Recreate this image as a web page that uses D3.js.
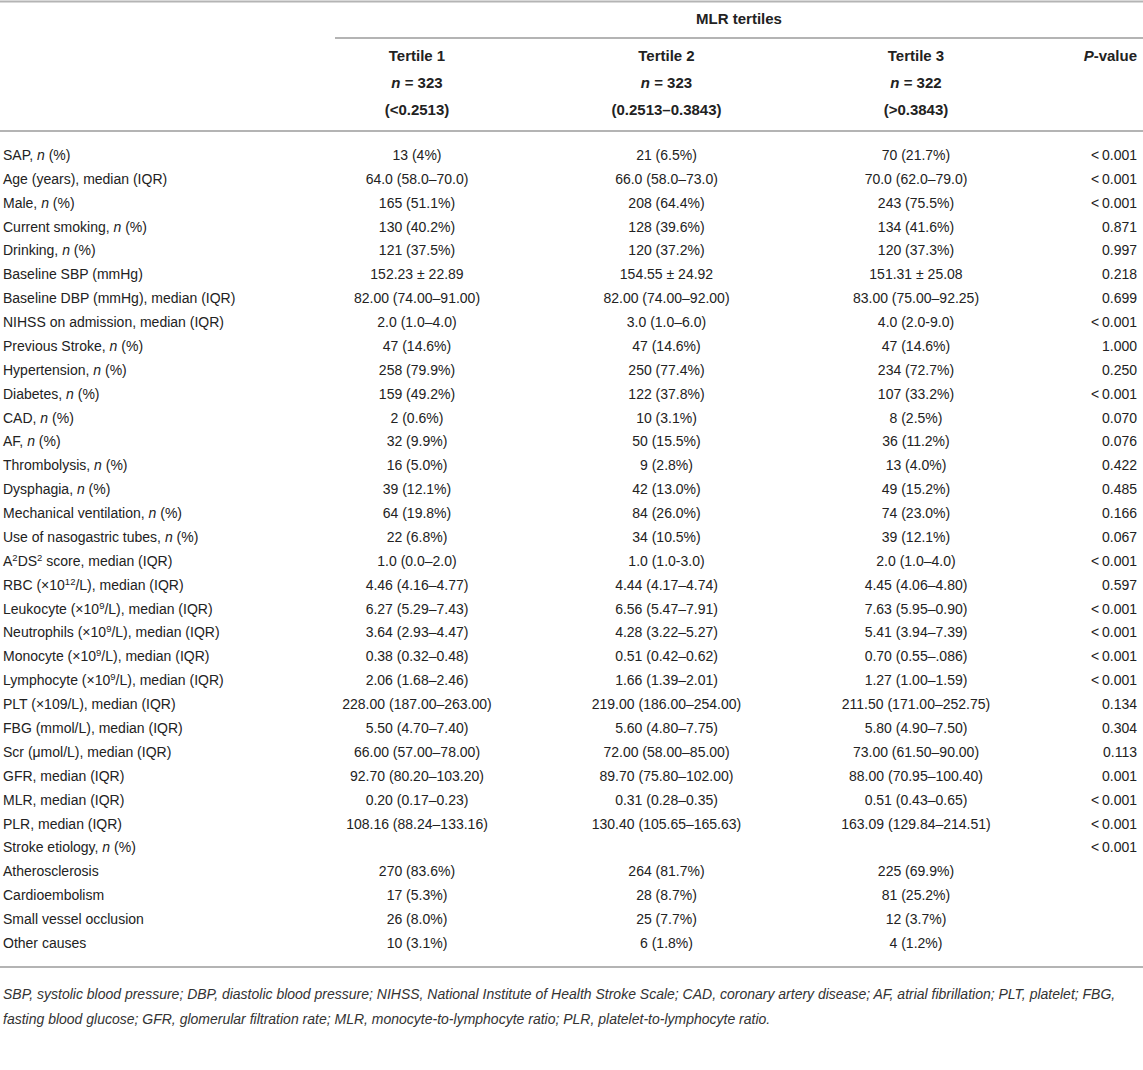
<!DOCTYPE html>
<html>
<head>
<meta charset="utf-8">
<script src="https://cdn.jsdelivr.net/npm/d3@7"></script>
<style>
  body { margin: 0; background: #fff; }
  svg { display: block; font-family: "Liberation Sans", Arial, Helvetica, sans-serif; }
</style>
</head>
<body>
<script>
// Table content. *x* = italic, ^x^ = superscript
var rowLabels = [
    "SAP, *n* (%)",
    "Age (years), median (IQR)",
    "Male, *n* (%)",
    "Current smoking, *n* (%)",
    "Drinking, *n* (%)",
    "Baseline SBP (mmHg)",
    "Baseline DBP (mmHg), median (IQR)",
    "NIHSS on admission, median (IQR)",
    "Previous Stroke, *n* (%)",
    "Hypertension, *n* (%)",
    "Diabetes, *n* (%)",
    "CAD, *n* (%)",
    "AF, *n* (%)",
    "Thrombolysis, *n* (%)",
    "Dysphagia, *n* (%)",
    "Mechanical ventilation, *n* (%)",
    "Use of nasogastric tubes, *n* (%)",
    "A^2^DS^2^ score, median (IQR)",
    "RBC (\u00d710^12^/L), median (IQR)",
    "Leukocyte (\u00d710^9^/L), median (IQR)",
    "Neutrophils (\u00d710^9^/L), median (IQR)",
    "Monocyte (\u00d710^9^/L), median (IQR)",
    "Lymphocyte (\u00d710^9^/L), median (IQR)",
    "PLT (\u00d7109/L), median (IQR)",
    "FBG (mmol/L), median (IQR)",
    "Scr (\u03bcmol/L), median (IQR)",
    "GFR, median (IQR)",
    "MLR, median (IQR)",
    "PLR, median (IQR)",
    "Stroke etiology, *n* (%)",
    "Atherosclerosis",
    "Cardioembolism",
    "Small vessel occlusion",
    "Other causes"
];

var tertile1 = [
    "13 (4%)", "64.0 (58.0\u201370.0)", "165 (51.1%)", "130 (40.2%)", "121 (37.5%)",
    "152.23 \u00b1 22.89", "82.00 (74.00\u201391.00)", "2.0 (1.0\u20134.0)", "47 (14.6%)",
    "258 (79.9%)", "159 (49.2%)", "2 (0.6%)", "32 (9.9%)", "16 (5.0%)", "39 (12.1%)",
    "64 (19.8%)", "22 (6.8%)", "1.0 (0.0\u20132.0)", "4.46 (4.16\u20134.77)",
    "6.27 (5.29\u20137.43)", "3.64 (2.93\u20134.47)", "0.38 (0.32\u20130.48)",
    "2.06 (1.68\u20132.46)", "228.00 (187.00\u2013263.00)", "5.50 (4.70\u20137.40)",
    "66.00 (57.00\u201378.00)", "92.70 (80.20\u2013103.20)", "0.20 (0.17\u20130.23)",
    "108.16 (88.24\u2013133.16)", "", "270 (83.6%)", "17 (5.3%)", "26 (8.0%)", "10 (3.1%)"
];

var tertile2 = [
    "21 (6.5%)", "66.0 (58.0\u201373.0)", "208 (64.4%)", "128 (39.6%)", "120 (37.2%)",
    "154.55 \u00b1 24.92", "82.00 (74.00\u201392.00)", "3.0 (1.0\u20136.0)", "47 (14.6%)",
    "250 (77.4%)", "122 (37.8%)", "10 (3.1%)", "50 (15.5%)", "9 (2.8%)", "42 (13.0%)",
    "84 (26.0%)", "34 (10.5%)", "1.0 (1.0-3.0)", "4.44 (4.17\u20134.74)",
    "6.56 (5.47\u20137.91)", "4.28 (3.22\u20135.27)", "0.51 (0.42\u20130.62)",
    "1.66 (1.39\u20132.01)", "219.00 (186.00\u2013254.00)", "5.60 (4.80\u20137.75)",
    "72.00 (58.00\u201385.00)", "89.70 (75.80\u2013102.00)", "0.31 (0.28\u20130.35)",
    "130.40 (105.65\u2013165.63)", "", "264 (81.7%)", "28 (8.7%)", "25 (7.7%)", "6 (1.8%)"
];

var tertile3 = [
    "70 (21.7%)", "70.0 (62.0\u201379.0)", "243 (75.5%)", "134 (41.6%)", "120 (37.3%)",
    "151.31 \u00b1 25.08", "83.00 (75.00\u201392.25)", "4.0 (2.0-9.0)", "47 (14.6%)",
    "234 (72.7%)", "107 (33.2%)", "8 (2.5%)", "36 (11.2%)", "13 (4.0%)", "49 (15.2%)",
    "74 (23.0%)", "39 (12.1%)", "2.0 (1.0\u20134.0)", "4.45 (4.06\u20134.80)",
    "7.63 (5.95\u20130.90)", "5.41 (3.94\u20137.39)", "0.70 (0.55\u2013.086)",
    "1.27 (1.00\u20131.59)", "211.50 (171.00\u2013252.75)", "5.80 (4.90\u20137.50)",
    "73.00 (61.50\u201390.00)", "88.00 (70.95\u2013100.40)", "0.51 (0.43\u20130.65)",
    "163.09 (129.84\u2013214.51)", "", "225 (69.9%)", "81 (25.2%)", "12 (3.7%)", "4 (1.2%)"
];

var pValues = [
    "<\u20090.001", "<\u20090.001", "<\u20090.001", "0.871", "0.997", "0.218", "0.699",
    "<\u20090.001", "1.000", "0.250", "<\u20090.001", "0.070", "0.076", "0.422", "0.485",
    "0.166", "0.067", "<\u20090.001", "0.597", "<\u20090.001", "<\u20090.001", "<\u20090.001",
    "<\u20090.001", "0.134", "0.304", "0.113", "0.001", "<\u20090.001", "<\u20090.001",
    "<\u20090.001", "", "", "", ""
];

var spanTitle = "MLR tertiles";
var groupNames = ["Tertile 1", "Tertile 2", "Tertile 3"];
var groupSizes = ["*n* = 323", "*n* = 323", "*n* = 322"];
var groupRanges = ["(<0.2513)", "(0.2513\u20130.3843)", "(>0.3843)"];
var pHeader = "*P*-value";

var footnoteLines = [
    "SBP, systolic blood pressure; DBP, diastolic blood pressure; NIHSS, National Institute of Health Stroke Scale; CAD, coronary artery disease; AF, atrial fibrillation; PLT, platelet; FBG,",
    "fasting blood glucose; GFR, glomerular filtration rate; MLR, monocyte-to-lymphocyte ratio; PLR, platelet-to-lymphocyte ratio."
];

var style = {
    width: 1143,
    height: 1070,
    fontSize: 14,
    headerFontSize: 15,
    footFontSize: 14,
    textColor: "#222",
    ruleColor: "#b4b4b4",
    labelX: 3,
    pRight: 1137,
    spanLeft: 335
};

// write a markup string into a text element as tspans
function richText(sel, str) {
    var parts = str.split(/(\*[^*]+\*|\^[^^]+\^)/).filter(function(s) { return s.length; });
    var shifted = false;
    parts.forEach(function(p) {
        var t = sel.append("tspan");
        if (p[0] == "*") {
            t.style("font-style", "italic").text(p.slice(1, -1));
            if (shifted) { t.attr("dy", 5); shifted = false; }
        } else if (p[0] == "^") {
            t.attr("font-size", 9.5).attr("dy", -5).text(p.slice(1, -1));
            shifted = true;
        } else {
            t.text(p);
            if (shifted) { t.attr("dy", 5); shifted = false; }
        }
    });
}

var svg = d3.select("body").append("svg")
    .attr("width", style.width)
    .attr("height", style.height);

svg.append("rect")
    .attr("width", style.width)
    .attr("height", style.height)
    .attr("fill", "#fff");

// column positions
var groupX = d3.scalePoint()
    .domain(groupNames)
    .range([417, 916]);

// row positions
var rowY = d3.scalePoint()
    .domain(d3.range(rowLabels.length))
    .range([155, 943]);

var headerY = d3.scalePoint()
    .domain(["name", "size", "range"])
    .range([56, 110]);

// rules
var rules = [
    { x1: 0, x2: style.width, y: 1.5 },
    { x1: style.spanLeft, x2: style.width, y: 38 },
    { x1: 0, x2: style.width, y: 131 },
    { x1: 0, x2: style.width, y: 967 }
];

svg.selectAll("line.rule")
    .data(rules)
    .enter().append("line")
    .attr("class", "rule")
    .attr("x1", function(d) { return d.x1; })
    .attr("x2", function(d) { return d.x2; })
    .attr("y1", function(d) { return d.y; })
    .attr("y2", function(d) { return d.y; })
    .attr("stroke", style.ruleColor)
    .attr("stroke-width", 2);

var header = svg.append("g")
    .attr("font-weight", "bold")
    .attr("font-size", style.headerFontSize)
    .attr("fill", style.textColor);

header.append("text")
    .attr("x", (style.spanLeft + style.width) / 2)
    .attr("y", 19)
    .attr("dy", "0.35em")
    .attr("text-anchor", "middle")
    .text(spanTitle);

[["name", groupNames], ["size", groupSizes], ["range", groupRanges]].forEach(function(row) {
    header.selectAll("text." + row[0])
        .data(row[1])
        .enter().append("text")
        .attr("class", row[0])
        .attr("x", function(d, i) { return groupX(groupNames[i]); })
        .attr("y", headerY(row[0]))
        .attr("dy", "0.35em")
        .attr("text-anchor", "middle")
        .each(function(d) { richText(d3.select(this), d); });
});

header.append("text")
    .attr("x", style.pRight)
    .attr("y", headerY("name"))
    .attr("dy", "0.35em")
    .attr("text-anchor", "end")
    .each(function() { richText(d3.select(this), pHeader); });

// body
var body = svg.append("g")
    .attr("font-size", style.fontSize)
    .attr("fill", style.textColor);

body.selectAll("text.label")
    .data(rowLabels)
    .enter().append("text")
    .attr("class", "label")
    .attr("x", style.labelX)
    .attr("y", function(d, i) { return rowY(i); })
    .attr("dy", "0.35em")
    .each(function(d) { richText(d3.select(this), d); });

[tertile1, tertile2, tertile3].forEach(function(values, gi) {
    body.selectAll("text.g" + gi)
        .data(values)
        .enter().append("text")
        .attr("class", "g" + gi)
        .attr("x", groupX(groupNames[gi]))
        .attr("y", function(d, i) { return rowY(i); })
        .attr("dy", "0.35em")
        .attr("text-anchor", "middle")
        .text(function(d) { return d; });
});

body.selectAll("text.p")
    .data(pValues)
    .enter().append("text")
    .attr("class", "p")
    .attr("x", style.pRight)
    .attr("y", function(d, i) { return rowY(i); })
    .attr("dy", "0.35em")
    .attr("text-anchor", "end")
    .text(function(d) { return d; });

// footnote
svg.append("g")
    .attr("font-size", style.footFontSize)
    .attr("font-style", "italic")
    .attr("fill", "#333")
    .selectAll("text")
    .data(footnoteLines)
    .enter().append("text")
    .attr("x", style.labelX)
    .attr("y", function(d, i) { return 994 + i * 25; })
    .attr("dy", "0.35em")
    .text(function(d) { return d; });
</script>
</body>
</html>
